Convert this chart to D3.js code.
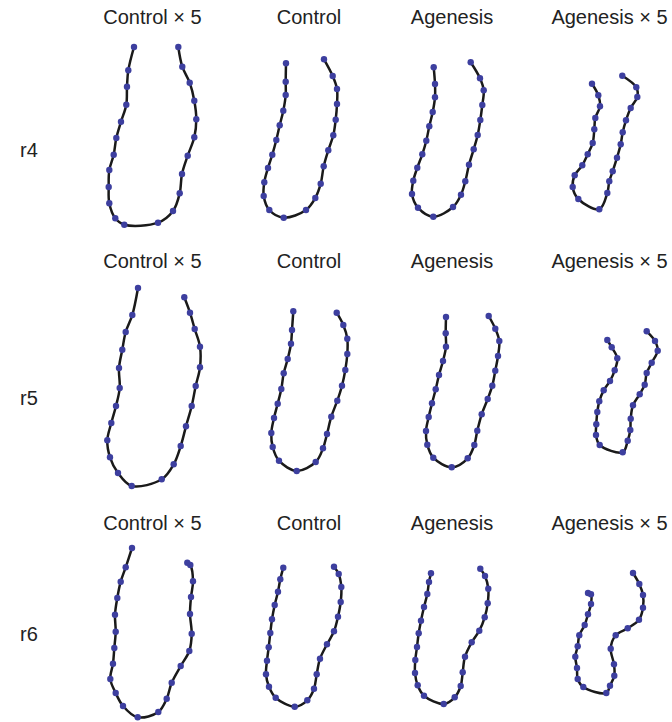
<!DOCTYPE html>
<html>
<head>
<meta charset="utf-8">
<script src="https://cdn.jsdelivr.net/npm/d3@7"></script>
<style>
  body { margin: 0; background: #fff; }
  svg text { font-family: "Liberation Sans", Arial, sans-serif; fill: #222; }
</style>
</head>
<body>
<div id="chart"></div>
<script>
////////////////////////////////////////////////////////////////////////////////////////
// data : outline points of each panel (local shape units, y down)
////////////////////////////////////////////////////////////////////////////////////////
var columnTitles = ["Control × 5", "Control", "Agenesis", "Agenesis × 5"];
var rowLabels = ["r4", "r5", "r6"];

var r4ControlX5 = [[34,7],[28.3,30.3],[27,46.7],[26.3,64.7],[21,81.7],[16.3,98],[13.7,114.7],[9.3,130],[8.7,147],[9.3,163.3],[15.3,178.3],[24.3,184.7],[58,182.7],[73,171],[79.7,153.3],[82,134],[87.7,115.7],[94.3,97.3],[96.3,79.3],[94.3,60.7],[89.7,42.7],[82.3,26.7],[78.3,7]];
var r4Control = [[36,23.3],[35.7,41.7],[35.7,55],[33.3,70.7],[29.7,85.3],[26.3,100],[22.3,114.7],[18,128],[14.3,142.3],[13.7,156],[19.3,170],[33.7,177.7],[56,170],[65.3,158],[70.7,143.7],[73.7,126.3],[78.3,110.3],[83.3,95.3],[85.7,79.7],[87,64],[87,49],[82.7,36],[74,19.3]];
var r4Agenesis = [[33.7,27.3],[35,44],[35,57.3],[32.7,72],[29.3,86.3],[26.3,100.7],[22.3,114.3],[17.3,127.7],[13.3,140.7],[12,154],[18,167.7],[33.3,176.7],[53,167],[61,154.7],[65.3,141.3],[69,124.7],[73.7,109.3],[77.7,95],[80.3,80],[82.3,65],[83.7,50.3],[80,38.3],[70.7,22.3]];
var r4AgenesisX5 = [[32,43.7],[38.3,55.3],[40,66.3],[35.3,78],[34.3,89.3],[32.7,103],[27.7,114.3],[22.3,125.3],[14.7,135.3],[12.7,147],[18.3,159],[39.3,169.3],[47.3,153],[49.3,141.3],[52.7,131.3],[57,117.7],[60.7,104.3],[62.7,92.3],[66,80.3],[70.7,68],[77.3,57],[76.3,47.3],[62.3,35.7]];

var r5ControlX5 = [[38,8],[32.3,35],[25.7,52],[22.3,69.7],[19,88],[19.7,108],[16,126],[11.3,143],[7.3,160.3],[10,177.3],[18,193],[31.7,206],[61.7,199.3],[73.7,184.3],[80.7,166],[86,146.3],[91.7,126],[95.7,106],[100,87.3],[100,66.7],[94.7,49],[90,32.7],[84.3,17.3]];
var r5Control = [[43.3,31.3],[42,50],[41,63.7],[37.7,79],[33.7,93.3],[31.3,109],[27.7,123.7],[24,138],[21.3,153],[22.7,167],[29,180.7],[46.7,191],[65.7,182],[73,168.3],[77,154],[81.3,136.7],[87.3,120.7],[92,105.7],[95.3,90],[97.3,74],[97.3,58.7],[93.3,45],[86.7,32.7]];
var r5Agenesis = [[46,37],[45.7,53.3],[46,66.7],[43,81],[39,95],[35.7,109.3],[32,123.3],[28.7,137],[26,151],[27.3,164.7],[33.3,177.7],[51.7,187.3],[67.7,178.3],[74.3,165],[77.3,150.7],[81.7,134.3],[87.7,119],[92.3,105.7],[95.3,90.7],[98,76],[99.3,61],[95.3,48.7],[88.7,36]];
var r5AgenesisX5 = [[47.3,60],[51.7,67.3],[57.3,78.3],[54.7,90.3],[50,101],[43.7,110.3],[39.3,121.3],[37.3,132],[36.3,144.3],[36,155],[39.7,165],[62.7,172.3],[67.7,160.7],[70.3,150],[70.7,138.7],[73,125.3],[79.7,114.3],[84.7,104.7],[86.7,93],[91.7,82.7],[97.7,70.7],[95,61],[86.7,51.3]];

var r6ControlX5 = [[32,8],[25.7,27.3],[20.7,41.7],[17.3,58],[15,74.7],[15.7,91.7],[14.3,108],[13,123.7],[10.3,139],[15.7,153],[23,166],[37.7,177.3],[58.3,172],[66.7,158.7],[71.7,142.7],[80.7,126],[89.3,111],[91.7,93.7],[90,74],[91,57],[93,41.3],[90.3,25],[87.3,22.7]];
var r6Control = [[33.3,27.7],[30.3,39.3],[28,51.7],[24.7,65],[22,79.3],[20.3,93],[18.7,107.3],[17,120.7],[16,134.3],[19,146.7],[25.7,157.7],[44.7,166.7],[57.3,160.3],[64,148.7],[66.7,134.3],[70,118.7],[77,104.3],[84,91.3],[88,76.7],[90.7,62],[91.3,47],[88.7,34],[84,26.7]];
var r6Agenesis = [[31,33.3],[29,42],[27.3,54],[24,67],[21,80.7],[18.7,93.3],[17,107],[15.3,120],[15,133],[17.7,145.3],[24,155.7],[43.7,164],[54.7,157.3],[60.7,146],[62.7,132.3],[65,116.7],[71.7,102.3],[79.3,90.7],[84.7,77.3],[87.7,63.3],[88.3,48.7],[85,36],[80.3,28.7]];
var r6AgenesisX5 = [[28,53],[31,54.3],[31,64],[28,74.3],[24.7,85],[19.3,95.3],[17.7,106.3],[15.3,116.7],[17,128],[17.7,139],[23.3,147],[46.3,153],[50,145.7],[54.3,135.7],[54,124.3],[50.7,108.7],[55.7,95.3],[67.7,88.3],[79,79.7],[83,67.7],[83,55],[79.3,44],[73,33]];

var shapeRows = [
	[r4ControlX5, r4Control, r4Agenesis, r4AgenesisX5],
	[r5ControlX5, r5Control, r5Agenesis, r5AgenesisX5],
	[r6ControlX5, r6Control, r6Agenesis, r6AgenesisX5]
];

////////////////////////////////////////////////////////////////////////////////////////
// layout
////////////////////////////////////////////////////////////////////////////////////////
var width = 672, height = 722;
var colLeft = [100, 250, 400, 560];
var colCenter = [152.5, 309, 452, 609.5];
var rowTop = [40, 280, 540];
var titleY = [24, 268, 530];
var rowLabelY = [157, 405, 641];

var svg = d3.select("#chart")
	.append("svg")
	.attr("width", width)
	.attr("height", height);

rowLabels.forEach(function (lbl, i) {
	svg.append("text")
		.attr("x", 20)
		.attr("y", rowLabelY[i])
		.style("font-size", "20px")
		.text(lbl);
});

shapeRows.forEach(function (row, ri) {
	// column titles repeated over every row
	columnTitles.forEach(function (t, ci) {
		svg.append("text")
			.attr("x", colCenter[ci])
			.attr("y", titleY[ri])
			.attr("text-anchor", "middle")
			.style("font-size", "20px")
			.text(t);
	});

	row.forEach(function (pts, ci) {
		var x = d3.scaleLinear().domain([0, 120]).range([colLeft[ci], colLeft[ci] + 120]);
		var y = d3.scaleLinear().domain([0, 200]).range([rowTop[ri], rowTop[ri] + 200]);

		var g = svg.append("g").attr("class", "panel");

		g.append("path")
			.datum(pts)
			.attr("fill", "none")
			.attr("stroke", "#1a1a1a")
			.attr("stroke-width", 2.5)
			.attr("stroke-linejoin", "round")
			.attr("d", d3.line()
				.x(function (d) { return x(d[0]); })
				.y(function (d) { return y(d[1]); })
				.curve(d3.curveCatmullRom.alpha(0.5)));

		g.selectAll("circle")
			.data(pts)
			.join("circle")
			.attr("cx", function (d) { return x(d[0]); })
			.attr("cy", function (d) { return y(d[1]); })
			.attr("r", 3.2)
			.attr("fill", "#3d3f9f");
	});
});
</script>
</body>
</html>
